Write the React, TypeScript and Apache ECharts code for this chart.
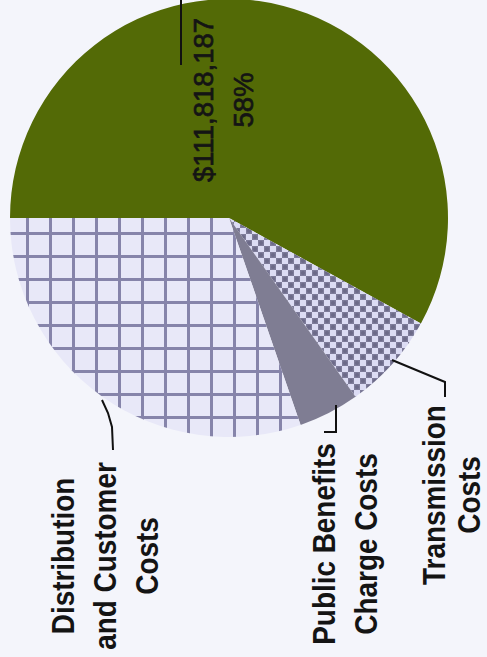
import React, { useEffect, useRef } from 'react';
import * as echarts from 'echarts';

// ---- data ----
const categories = [
  'Generation Costs',
  'Transmission Costs',
  'Public Benefits Charge Costs',
  'Distribution and Customer Costs',
];
const shares = [58, 7.2, 4.5, 30.3];
const generationLabel = ['$111,818,187', '58%'];
const distributionLabel = ['Distribution', 'and Customer', 'Costs'];
const publicLabel = ['Public Benefits', 'Charge Costs'];
const transmissionLabel = ['Transmission', 'Costs'];

function makeGridTile(): HTMLCanvasElement {
  const c = document.createElement('canvas');
  c.width = 23;
  c.height = 23;
  const g = c.getContext('2d')!;
  g.fillStyle = '#e8e8f8';
  g.fillRect(0, 0, 23, 23);
  g.fillStyle = '#8684aa';
  g.fillRect(3, 0, 3, 23);
  g.fillRect(0, 2, 23, 3);
  return c;
}

function makeCheckTile(): HTMLCanvasElement {
  const c = document.createElement('canvas');
  c.width = 12;
  c.height = 12;
  const g = c.getContext('2d')!;
  g.fillStyle = '#7e7c9a';
  g.fillRect(0, 0, 12, 12);
  g.fillStyle = '#dcdcf4';
  g.fillRect(0, 0, 6, 6);
  g.fillRect(6, 6, 6, 6);
  g.fillStyle = '#6c6a88';
  g.beginPath();
  g.arc(9, 3, 2, 0, Math.PI * 2);
  g.fill();
  g.beginPath();
  g.arc(3, 9, 2, 0, Math.PI * 2);
  g.fill();
  return c;
}

export default function App() {
  const ref = useRef<HTMLDivElement>(null);
  useEffect(() => {
    if (!ref.current) return;
    const chart = echarts.init(ref.current, undefined, { renderer: 'svg' });
    const grid = makeGridTile();
    const check = makeCheckTile();
    const colors: any[] = [
      '#536a06',
      { image: check, repeat: 'repeat', imageWidth: 12, imageHeight: 12 },
      '#7f7d93',
      { image: grid, repeat: 'repeat', imageWidth: 23, imageHeight: 23 },
    ];
    const labelFont = {
      fontFamily: '"Liberation Sans", Arial, sans-serif',
      fontWeight: 'bold' as const,
      fontSize: 31,
      lineHeight: 42,
      fill: '#141414',
      align: 'center' as const,
      verticalAlign: 'middle' as const,
    };
    const mkText = (lines: string[], x: number, y: number, style: any, scaleX: number) => ({
      type: 'text',
      x,
      y,
      z: 100,
      rotation: Math.PI / 2,
      scaleX,
      silent: true,
      style: { ...style, text: lines.join('\n') },
    });
    const lineStyle = { stroke: '#111', lineWidth: 2, fill: 'none' };
    const mkLine = (points: number[][]) => ({
      type: 'polyline',
      z: 100,
      silent: true,
      shape: { points },
      style: lineStyle,
    });
    chart.setOption({
      animation: false,
      backgroundColor: '#f4f5fb',
      series: [
        {
          type: 'pie',
          z: 2,
          center: [229, 218],
          radius: 219,
          startAngle: 180,
          clockwise: true,
          silent: true,
          label: { show: false },
          labelLine: { show: false },
          data: categories.map((name, i) => ({
            name,
            value: shares[i],
            itemStyle: { color: colors[i], borderWidth: 0 },
          })),
        },
      ],
      graphic: {
        elements: [
          mkText(generationLabel, 223, 100, {
            fontFamily: '"Liberation Sans", Arial, sans-serif',
            fontWeight: 'normal',
            fontSize: 27.5,
            lineHeight: 40,
            fill: '#141414',
            stroke: '#141414',
            lineWidth: 0.7,
            align: 'center',
            verticalAlign: 'middle',
          }, 1),
          mkText(distributionLabel, 105, 556, labelFont, 0.9),
          mkText(publicLabel, 345, 544, labelFont, 0.9),
          mkText([transmissionLabel[0]], 434, 495, { ...labelFont, lineHeight: 31 }, 0.9),
          mkText([transmissionLabel[1]], 469, 495, { ...labelFont, lineHeight: 31 }, 0.9),
          mkLine([[181, 0], [181, 65]]),
          mkLine([[102, 400], [108, 413], [112, 427], [113, 450]]),
          mkLine([[336, 405], [336, 432], [324, 432]]),
          mkLine([[392, 360], [445, 382], [445, 397]]),
        ],
      },
    });
    return () => chart.dispose();
  }, []);
  return (
    <div
      ref={ref}
      style={{ position: 'absolute', left: 0, top: 0, width: 487, height: 657 }}
    />
  );
}
